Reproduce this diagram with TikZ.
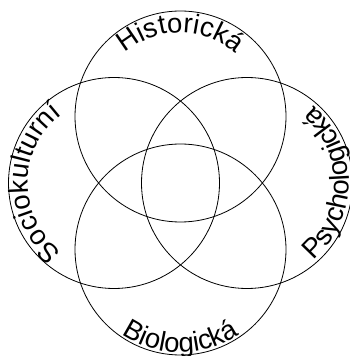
\documentclass[tikz,border=0pt]{standalone}
\usepackage{fontspec}
\setmainfont{Liberation Sans}
\usetikzlibrary{decorations.text}
\begin{document}
\begin{tikzpicture}[x=1pt,y=1pt,
  ring/.style={draw=black, line width=0.8pt},
  lbl/.style={decorate, decoration={text along path, text align=center,
      text={|\fontsize{27.5}{27.5}\selectfont|#1}}}]
\useasboundingbox (0,0) rectangle (350,356);
\coordinate (T) at (180.5,239.5);
\coordinate (B) at (180.5,106.5);
\coordinate (L) at (114,173);
\coordinate (R) at (247,173);
\draw[ring] (T) circle[radius=105.5];
\draw[ring] (B) circle[radius=105.5];
\draw[ring] (L) circle[radius=105.5];
\draw[ring] (R) circle[radius=105.5];
\path[lbl=Historická] (T) ++(150:84) arc[start angle=150, end angle=30, radius=84];
\path[lbl=Sociokulturní] (L) ++(250:86) arc[start angle=250, end angle=110, radius=86];
\path[lbl=Psychologická] (R) ++(-65:102) arc[start angle=-65, end angle=65, radius=102];
\path[lbl=Biologická] (B) ++(210:103) arc[start angle=210, end angle=330, radius=103];
\end{tikzpicture}
\end{document}
